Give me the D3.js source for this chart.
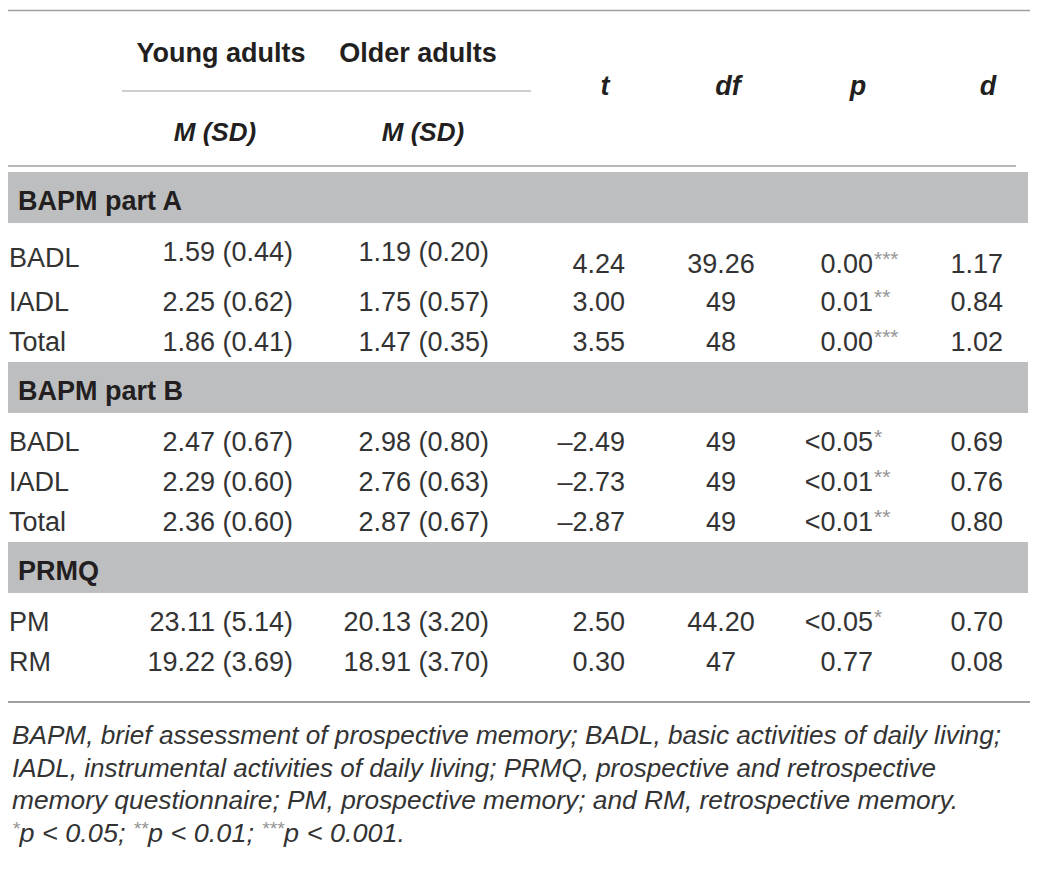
<!DOCTYPE html>
<html>
<head>
<meta charset="utf-8">
<script src="https://cdn.jsdelivr.net/npm/d3@7"></script>
<style>
  body { margin: 0; background: #fff; }
  svg { display: block; }
  text { font-family: "Liberation Sans", Arial, Helvetica, sans-serif; fill: #231f20; }
</style>
</head>
<body>
<div class="wrapper"></div>
<script>
// table values
var sections = ["BAPM part A", "BAPM part B", "PRMQ"];
var rowLabels = [["BADL", "IADL", "Total"], ["BADL", "IADL", "Total"], ["PM", "RM"]];
var youngM  = [1.59, 2.25, 1.86, 2.47, 2.29, 2.36, 23.11, 19.22];
var youngSD = [0.44, 0.62, 0.41, 0.67, 0.60, 0.60, 5.14, 3.69];
var olderM  = [1.19, 1.75, 1.47, 2.98, 2.76, 2.87, 20.13, 18.91];
var olderSD = [0.20, 0.57, 0.35, 0.80, 0.63, 0.67, 3.20, 3.70];
var tVals   = [4.24, 3.00, 3.55, -2.49, -2.73, -2.87, 2.50, 0.30];
var dfVals  = [39.26, 49, 48, 49, 49, 49, 44.20, 47];
var pVals   = [0.00, 0.01, 0.00, 0.05, 0.01, 0.01, 0.05, 0.77];
var pPrefix = ["", "", "", "<", "<", "<", "<", ""];
var pStars  = [3, 2, 3, 1, 2, 2, 1, 0];
var dVals   = [1.17, 0.84, 1.02, 0.69, 0.76, 0.80, 0.70, 0.08];

var groupHeads = ["Young adults", "Older adults"];
var statHeads = ["t", "df", "p", "d"];
var footLines = [
    "BAPM, brief assessment of prospective memory; BADL, basic activities of daily living;",
    "IADL, instrumental activities of daily living; PRMQ, prospective and retrospective",
    "memory questionnaire; PM, prospective memory; and RM, retrospective memory."
];
var footSig = [[1, "p < 0.05; "], [2, "p < 0.01; "], [3, "p < 0.001."]];

var width = 1044,
    height = 874;

var svg = d3.select(".wrapper").append("svg")
    .attr("width", width)
    .attr("height", height);

var f2 = d3.format(".2f");
function num(v) { return v < 0 ? "\u2013" + f2(-v) : f2(v); }
function dfFmt(v) { return Number.isInteger(v) ? String(v) : f2(v); }
function stars(n) { return "*".repeat(n); }

// column anchors
var colKeys = ["label", "young", "older", "t", "df", "p", "d"];
var x = d3.scaleOrdinal()
    .domain(colKeys)
    .range([9, 293, 489, 625, 721, 873, 1003]);
var anchor = d3.scaleOrdinal()
    .domain(colKeys)
    .range(["start", "end", "end", "end", "middle", "end", "end"]);
var headX = d3.scaleOrdinal()
    .domain(groupHeads.concat(statHeads))
    .range([221, 418, 605, 728, 858, 988]);

var ruleColor = "#a0a0a0",
    bandColor = "#bdbec0",
    left = 8,
    right = 1030;

// header
svg.append("line").attr("x1", left).attr("x2", right).attr("y1", 10.5).attr("y2", 10.5)
    .attr("stroke", ruleColor).attr("stroke-width", 1.6);

svg.selectAll("text.group").data(groupHeads).enter().append("text")
    .attr("class", "group")
    .attr("x", function(d) { return headX(d); })
    .attr("y", 62)
    .attr("text-anchor", "middle")
    .style("font-size", "27px").style("font-weight", "bold")
    .text(function(d) { return d; });

svg.append("line").attr("x1", 122).attr("x2", 531).attr("y1", 91).attr("y2", 91)
    .attr("stroke", ruleColor).attr("stroke-width", 1.2);

svg.selectAll("text.msd").data([215, 423]).enter().append("text")
    .attr("class", "msd")
    .attr("x", function(d) { return d; })
    .attr("y", 141)
    .attr("text-anchor", "middle")
    .style("font-size", "26px").style("font-weight", "bold").style("font-style", "italic")
    .text("M (SD)");

svg.selectAll("text.stat").data(statHeads).enter().append("text")
    .attr("class", "stat")
    .attr("x", function(d) { return headX(d); })
    .attr("y", 95)
    .attr("text-anchor", "middle")
    .style("font-size", "27px").style("font-weight", "bold").style("font-style", "italic")
    .text(function(d) { return d; });

svg.append("line").attr("x1", left).attr("x2", 1016).attr("y1", 166).attr("y2", 166)
    .attr("stroke", ruleColor).attr("stroke-width", 1.6);

// body rows, laid out top to bottom
var rows = [],
    bands = [],
    cursor = 172,
    k = 0;
sections.forEach(function(name, si) {
    bands.push({ name: name, y: cursor });
    cursor += 51;
    rowLabels[si].forEach(function(lab, ri) {
        var tall = (si === 0 && ri === 0);   // first row sits staggered in the source
        var base = cursor + 38;
        rows.push({
            label: lab, i: k,
            yLabel: tall ? base + 6 : base,
            yGroup: base,
            yStat: tall ? base + 12 : base
        });
        cursor = tall ? base + 12 : base + 2;
        k++;
    });
    cursor += 9;
});
var bottomRule = rows[rows.length - 1].yStat + 31;

svg.selectAll("rect.band").data(bands).enter().append("rect")
    .attr("class", "band")
    .attr("x", left).attr("width", 1028 - left)
    .attr("y", function(d) { return d.y; })
    .attr("height", 51)
    .attr("fill", bandColor);

svg.selectAll("text.section").data(bands).enter().append("text")
    .attr("class", "section")
    .attr("x", 18)
    .attr("y", function(d) { return d.y + 38; })
    .style("font-size", "27px").style("font-weight", "bold")
    .text(function(d) { return d.name; });

var cells = [];
rows.forEach(function(r) {
    var i = r.i;
    cells.push({ col: "label", y: r.yLabel, text: r.label });
    cells.push({ col: "young", y: r.yGroup, text: f2(youngM[i]) + " (" + f2(youngSD[i]) + ")" });
    cells.push({ col: "older", y: r.yGroup, text: f2(olderM[i]) + " (" + f2(olderSD[i]) + ")" });
    cells.push({ col: "t", y: r.yStat, text: num(tVals[i]) });
    cells.push({ col: "df", y: r.yStat, text: dfFmt(dfVals[i]) });
    cells.push({ col: "p", y: r.yStat, text: pPrefix[i] + f2(pVals[i]), stars: pStars[i] });
    cells.push({ col: "d", y: r.yStat, text: f2(dVals[i]) });
});

svg.selectAll("text.cell").data(cells).enter().append("text")
    .attr("class", "cell")
    .attr("x", function(d) { return x(d.col); })
    .attr("y", function(d) { return d.y; })
    .attr("text-anchor", function(d) { return anchor(d.col); })
    .style("font-size", "27px")
    .style("fill", "#333")
    .text(function(d) { return d.text; });

svg.selectAll("text.star").data(cells.filter(function(d) { return d.stars; })).enter().append("text")
    .attr("class", "star")
    .attr("x", x("p") + 1)
    .attr("y", function(d) { return d.y - 7; })
    .style("font-size", "21px")
    .style("fill", "#949494")
    .text(function(d) { return stars(d.stars); });

svg.append("line").attr("x1", left).attr("x2", right).attr("y1", bottomRule).attr("y2", bottomRule)
    .attr("stroke", ruleColor).attr("stroke-width", 2);

// footnote
var footWidths = [989, 924, 946];
svg.selectAll("text.foot").data(footLines).enter().append("text")
    .attr("class", "foot")
    .attr("x", 12)
    .attr("y", function(d, i) { return bottomRule + 42 + i * 32.7; })
    .attr("textLength", function(d, i) { return footWidths[i]; })
    .attr("lengthAdjust", "spacingAndGlyphs")
    .style("font-size", "25px").style("font-style", "italic")
    .style("fill", "#333")
    .text(function(d) { return d; });

var sig = svg.append("text")
    .attr("x", 12)
    .attr("y", bottomRule + 42 + 3 * 32.7)
    .attr("textLength", 393)
    .attr("lengthAdjust", "spacingAndGlyphs")
    .style("font-size", "25px").style("font-style", "italic")
    .style("fill", "#333");
footSig.forEach(function(s) {
    sig.append("tspan").attr("dy", -7).style("font-size", "18px").style("fill", "#949494").text(stars(s[0]));
    sig.append("tspan").attr("dy", 7).text(s[1]);
});
</script>
</body>
</html>
